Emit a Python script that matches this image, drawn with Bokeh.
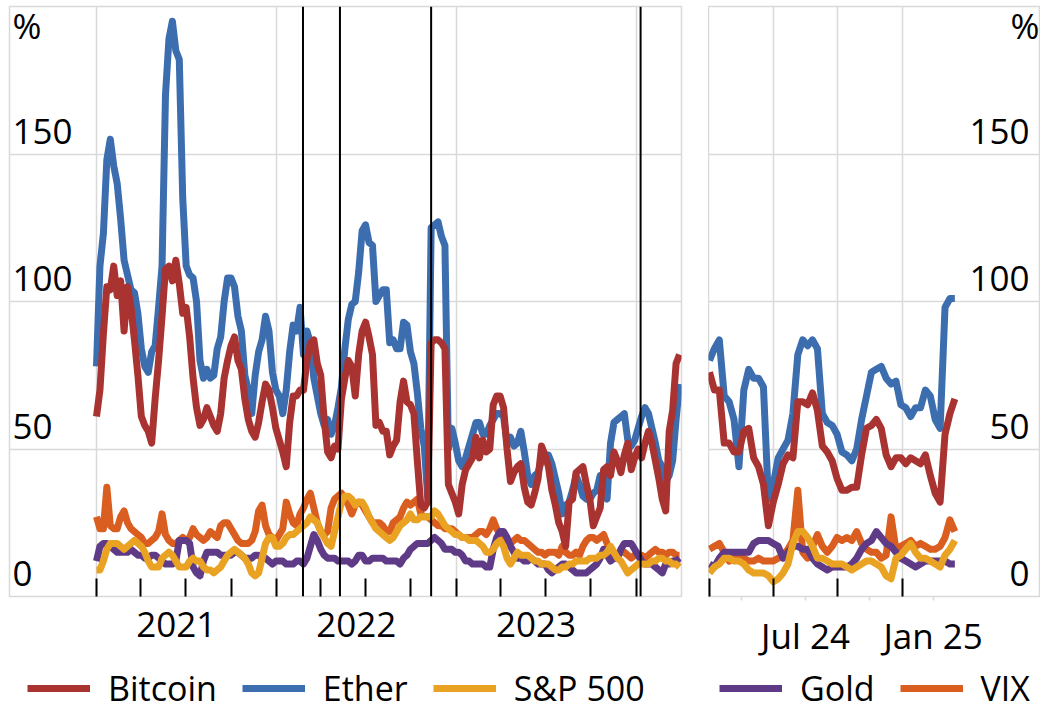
import pandas as pd
from bokeh.plotting import figure
from bokeh.models import (FixedTicker, Span, Label, Legend, LegendItem, Range1d,
                          ColumnDataSource, LinearAxis, Grid)
from bokeh.layouts import row, column
from bokeh.embed import file_html
from bokeh.resources import INLINE

# ---------------- data (weekly readings, % annualised volatility) ----------------
left_start = "2021-01-01"
right_start = "2024-04-01"
step = "7D"

btc_left = [61, 70, 89, 105, 104, 112, 102, 107, 90, 105,
            98, 87, 75, 61, 58, 56, 52, 67, 80, 95,
            111, 112, 107, 114, 106, 96, 98, 88, 74, 64,
            58, 60, 64, 61, 58, 56, 62, 74, 80, 85,
            88, 80, 77, 67, 60, 56, 54, 59, 66, 72,
            70, 64, 57, 53, 49, 44, 59, 68,
            68, 70, 70, 80, 86, 87, 79, 75, 60, 49,
            47, 51, 50, 67, 74, 80, 78, 68, 82, 90,
            93, 88, 82, 58, 59, 56, 56, 48, 51, 53,
            66, 73, 66, 65, 62, 46, 31, 30, 32, 86,
            87, 87, 86, 84, 38, 35, 32, 28, 38, 43,
            45, 47, 54, 47, 53, 49, 50, 65, 68,
            68, 64, 50, 39, 42, 44, 45, 37, 32, 31,
            35, 40, 51, 48, 44, 36, 31, 25, 22, 17,
            32, 33, 42, 43, 44, 38, 33, 24, 27, 30,
            43, 44, 41, 49, 46, 42, 48, 52, 43, 47,
            50, 47, 52, 56, 52, 46, 40,
            33, 29, 56, 63, 79, 82]

eth_left = [78, 112, 123, 148, 155, 146, 140, 128, 114, 109,
            104, 103, 96, 84, 78, 76, 83, 85, 98, 112,
            170, 189, 195, 185, 182, 135, 112, 109, 108, 100,
            80, 74, 77, 74, 75, 84, 88, 100, 108, 108,
            105, 95, 90, 75, 70, 62, 75, 83, 87, 95,
            90, 76, 70, 68, 62, 70, 83, 92,
            90, 98, 82, 90, 86, 74, 68, 62, 58, 60,
            55, 58, 64, 71, 84, 94, 99, 100, 110, 124,
            126, 120, 119, 100, 102, 104, 104, 86, 87, 84,
            84, 93, 92, 83, 79, 69, 57, 51, 34, 125,
            126, 127, 122, 119, 50, 57, 52, 46, 44, 47,
            51, 55, 59, 59, 55, 55, 58, 60, 62,
            62, 61, 52, 54, 51, 52, 56, 49, 41, 38,
            41, 42, 46, 48, 48, 45, 40, 35, 28, 31,
            32, 36, 41, 38, 34, 33, 33, 35, 36, 41,
            38, 33, 52, 59, 60, 61, 62, 53, 51, 53,
            57, 61, 64, 62, 57, 52, 46,
            44, 39, 41, 46, 60, 72]

spx_left = [9, 9, 12, 16, 18, 18, 18, 17, 16, 17,
            18, 19, 18, 17, 15, 12, 10, 10, 10, 13,
            14, 15, 14, 12, 10, 10, 10, 12, 13, 12,
            12, 10, 9, 9, 8, 9, 10, 12, 14, 15,
            16, 15, 14, 13, 11, 8, 7, 8, 13, 18,
            20, 20, 17, 17, 18, 20, 21, 21,
            22, 23, 24, 25, 27, 26, 25, 22, 20, 18,
            17, 22, 27, 32, 34, 34, 33, 31, 32, 32,
            30, 27, 25, 23, 22, 21, 20, 19, 20, 22,
            24, 25, 26, 28, 26, 26, 27, 27, 27, 27,
            29, 28, 26, 24, 23, 22, 21, 21, 20, 20,
            19, 19, 19, 18, 17, 15, 15, 16, 18,
            19, 17, 13, 11, 13, 15, 14, 14, 14, 13,
            12, 12, 11, 11, 11, 10, 9, 9, 10, 10,
            11, 11, 12, 12, 12, 12, 13, 13, 13, 14,
            14, 15, 17, 15, 13, 12, 10, 8, 9, 10,
            11, 11, 11, 11, 12, 12, 13,
            13, 12, 12, 11, 11, 10]

gold_left = [12, 17, 18, 18, 17, 16, 15, 15, 15, 15,
             16, 15, 14, 14, 13, 13, 14, 14, 13, 12,
             11, 11, 11, 12, 19, 19, 19, 18, 10, 8,
             7, 12, 15, 15, 15, 15, 14, 14, 14, 14,
             15, 15, 14, 13, 13, 13, 14, 14, 13, 13,
             12, 11, 12, 12, 12, 11, 11, 11,
             12, 12, 11, 13, 17, 21, 19, 16, 14, 13,
             13, 13, 12, 12, 12, 12, 11, 12, 14, 14,
             12, 12, 13, 13, 13, 13, 12, 12, 12, 12,
             11, 13, 14, 16, 17, 18, 18, 18, 18, 19,
             20, 19, 18, 16, 16, 16, 15, 15, 14, 12,
             12, 11, 11, 11, 11, 10, 10, 16, 20,
             22, 22, 20, 17, 15, 13, 13, 12, 12, 13,
             12, 11, 11, 11, 9, 8, 9, 10, 11, 11,
             10, 9, 8, 8, 8, 8, 9, 10, 11, 13,
             16, 14, 12, 13, 13, 16, 18, 18, 18, 16,
             14, 12, 11, 11, 11, 10, 9,
             8, 11, 11, 12, 12, 13]

vix_left = [27, 23, 23, 37, 24, 23, 23, 27, 29, 25,
            23, 22, 21, 20, 18, 18, 19, 20, 22, 28,
            21, 19, 18, 18, 19, 20, 19, 20, 23, 21,
            20, 19, 20, 22, 21, 20, 24, 25, 25, 23,
            21, 19, 18, 18, 18, 19, 22, 29, 31, 24,
            21, 20, 19, 21, 23, 32, 28, 25,
            24, 28, 30, 33, 35, 30, 25, 22, 21, 22,
            30, 33, 34, 35, 33, 31, 28, 31, 32, 31,
            29, 27, 25, 25, 25, 24, 22, 22, 25, 26,
            27, 30, 32, 31, 32, 33, 28, 27, 27, 26,
            25, 24, 24, 23, 23, 23, 22, 21, 20, 20,
            20, 20, 21, 22, 22, 21, 23, 26, 23,
            21, 19, 18, 18, 19, 20, 19, 19, 18, 17,
            16, 15, 15, 14, 15, 15, 15, 14, 17, 15,
            14, 14, 15, 14, 17, 19, 20, 20, 19, 20,
            21, 18, 15, 13, 14, 15, 15, 14, 13, 14,
            14, 14, 13, 14, 15, 16, 15,
            15, 14, 15, 15, 14, 14]

btc_right = [76, 70, 70, 52, 52, 49, 49, 56, 57, 47,
             44, 38, 24, 32, 38, 45, 48, 47, 66, 66,
             65, 69, 63, 51, 49, 46, 40, 36, 36, 37,
             37, 48, 57, 58, 60, 57, 48, 44, 47, 47,
             45, 47, 46, 45, 48, 41, 35, 32, 55, 62,
             67]
eth_right = [80, 84, 87, 68, 66, 60, 44, 70, 77, 74,
             74, 71, 33, 38, 47, 50, 53, 62, 82, 87,
             85, 87, 84, 62, 59, 58, 55, 49, 48, 46,
             50, 60, 68, 76, 77, 78, 74, 72, 73, 65,
             64, 61, 64, 64, 70, 68, 60, 57, 98, 101,
             101]
spx_right = [8, 10, 11, 13, 13, 12, 12, 11, 9, 8,
             8, 8, 7, 5, 6, 8, 11, 18, 22, 22,
             20, 17, 13, 13, 12, 11, 11, 11, 10, 9,
             10, 11, 12, 12, 11, 10, 7, 6, 13, 14,
             16, 18, 15, 13, 13, 12, 11, 10, 14, 16,
             19]
gold_right = [11, 10, 13, 15, 15, 15, 15, 15, 15, 18,
              19, 19, 19, 18, 17, 13, 15, 17, 17, 16,
              16, 13, 11, 10, 9, 10, 10, 10, 10, 11,
              13, 16, 18, 19, 22, 20, 18, 17, 15, 13,
              12, 11, 10, 11, 12, 12, 12, 12, 12, 11,
              11]
vix_right = [16, 17, 18, 15, 12, 13, 13, 13, 12, 12,
             13, 12, 12, 12, 13, 14, 16, 19, 36, 15,
             13, 17, 21, 17, 15, 17, 20, 19, 20, 19,
             22, 18, 16, 15, 15, 13, 14, 27, 16, 17,
             18, 19, 17, 18, 17, 16, 16, 17, 20, 26,
             22]

series_labels = ["Bitcoin", "Ether", "S&P 500", "Gold", "VIX"]
y_ticks = [0, 50, 100, 150]
left_year_labels = ["2021", "2022", "2023"]
left_year_label_dates = ["2021-06-12", "2022-06-12", "2023-06-12"]
left_year_starts = ["2021-01-01", "2022-01-01", "2023-01-01", "2024-01-01"]
left_event_dates = ["2022-02-24", "2022-05-10", "2022-11-11", "2024-01-10"]
right_quarter_starts = ["2024-04-01", "2024-07-01", "2024-10-01", "2025-01-01"]
right_label_dates = ["2024-05-16", "2024-08-16", "2024-11-15", "2025-02-14"]
right_labels = ["", "Jul 24", "", "Jan 25"]

# ---------------- style ----------------
FONT = "Open Sans"
FS_AX = "35px"
FS_LEG = "34px"
GRID = "#d9d9d9"
COL = {"Bitcoin": "#A93330", "Ether": "#3C6DAF", "S&P 500": "#E9A221",
       "Gold": "#5F3B87", "VIX": "#D95E20"}
LW = 7
H_TOP = 665      # height of the chart row
H_LEG = 46       # height of the legend row
TOP = 6          # frame top (px)
FRAME_H = 590    # frame height (px)


def ms(d):
    return int(pd.Timestamp(d).value // 10**6)


def make_panel(dates, data, x_start, x_end, width, mbl, mbr):
    src = ColumnDataSource(dict(date=dates, **{k: v for k, v in data.items()}))
    p = figure(width=width, height=H_TOP, x_range=Range1d(ms(x_start), ms(x_end)),
               y_range=Range1d(0, 200), x_axis_type=None, y_axis_type=None,
               toolbar_location=None, output_backend="svg",
               min_border_left=mbl, min_border_right=mbr, min_border_top=TOP,
               min_border_bottom=H_TOP - TOP - FRAME_H,
               outline_line_color=GRID, outline_line_width=1.5,
               background_fill_color="white", border_fill_color="white")
    p.add_layout(Grid(dimension=1, ticker=FixedTicker(ticks=[50, 100, 150, 200]),
                      grid_line_color=GRID, grid_line_width=1.5))
    for name in ["VIX", "Gold", "S&P 500", "Ether", "Bitcoin"]:
        p.line(x="date", y=name, source=src, line_color=COL[name],
               line_width=LW, line_join="round")
    return p


def add_xaxis(p, label_dates, labels, minor_dates, grid_dates, major_color):
    ticks = [ms(d) for d in label_dates]
    ax = LinearAxis(ticker=FixedTicker(ticks=ticks, minor_ticks=[ms(d) for d in minor_dates]),
                    major_label_overrides={t: l for t, l in zip(ticks, labels)},
                    axis_line_color=None,
                    major_tick_line_color=major_color, major_tick_line_width=1.5,
                    major_tick_in=0, major_tick_out=4,
                    minor_tick_line_color="black", minor_tick_line_width=2,
                    minor_tick_in=18, minor_tick_out=0,
                    major_label_standoff=11,
                    major_label_text_font=FONT, major_label_text_font_size=FS_AX,
                    major_label_text_color="black")
    p.add_layout(ax, "below")
    p.add_layout(Grid(dimension=0, ticker=FixedTicker(ticks=[ms(d) for d in grid_dates]),
                      grid_line_color=GRID, grid_line_width=1.5))


def add_ylabels(p, sx, sx_pct, align):
    for v in y_ticks:
        p.add_layout(Label(x=sx, x_units="screen", y=v, y_offset=23, text=str(v),
                           text_align=align, text_baseline="alphabetic",
                           text_font=FONT, text_font_size=FS_AX, text_color="black"))
    p.add_layout(Label(x=sx_pct, x_units="screen", y=200, y_offset=-19, text="%",
                       text_align=align, text_baseline="alphabetic",
                       text_font=FONT, text_font_size=FS_AX, text_color="black"))


def legend_panel(names, width, margin):
    """Legend row below a chart panel; its keys carry the series' colours."""
    p = figure(width=width, height=H_LEG, x_range=Range1d(0, 1), y_range=Range1d(0, 1),
               x_axis_type=None, y_axis_type=None, toolbar_location=None,
               output_backend="svg", min_border=0, outline_line_color=None,
               background_fill_color="white", border_fill_color="white")
    items = []
    for n in names:
        # legend key only: no visible data points in this row
        r = p.line(x=[float("nan")], y=[float("nan")], line_color=COL[n], line_width=LW)
        items.append(LegendItem(label=n, renderers=[r]))
    leg = Legend(items=items, location="left", orientation="horizontal",
                 padding=0, margin=margin, spacing=25, glyph_width=63, glyph_height=20,
                 label_standoff=18, label_text_font=FONT, label_text_font_size=FS_LEG,
                 label_text_color="black", background_fill_alpha=0, border_line_color=None)
    p.add_layout(leg)
    return p


# ---------------- left panel ----------------
ldates = pd.date_range(left_start, periods=len(btc_left), freq=step)
lstart = pd.Timestamp("2021-01-01") - pd.Timedelta(days=176.5)
lend = pd.Timestamp("2021-01-01") + pd.Timedelta(days=1187)
pl = make_panel(ldates, {"Bitcoin": btc_left, "Ether": eth_left, "S&P 500": spx_left,
                         "Gold": gold_left, "VIX": vix_left},
                lstart, lend, 708, 9, 27)
add_xaxis(pl, left_year_label_dates, left_year_labels,
          pd.date_range("2021-01-01", "2024-01-01", freq="QS"), left_year_starts, None)
for d in left_event_dates:
    pl.add_layout(Span(location=ms(d), dimension="height", line_color="black", line_width=2))
add_ylabels(pl, 3, 3, "left")

# ---------------- right panel ----------------
rdates = pd.date_range(right_start, periods=len(btc_right), freq=step)
rstart = pd.Timestamp("2024-04-01") - pd.Timedelta(days=1.4)
rend = rstart + pd.Timedelta(days=332 / 0.701)
pr = make_panel(rdates, {"Bitcoin": btc_right, "Ether": eth_right, "S&P 500": spx_right,
                         "Gold": gold_right, "VIX": vix_right},
                rstart, rend, 332, 0, 0)
add_xaxis(pr, right_label_dates, right_labels, right_quarter_starts,
          right_quarter_starts[1:], GRID)
add_ylabels(pr, 321, 331, "right")

leg_l = legend_panel(["Bitcoin", "Ether", "S&P 500"], 708, 27)
leg_r = legend_panel(["Gold", "VIX"], 332, 11)

layout = column(row(pl, pr, spacing=0), row(leg_l, leg_r, spacing=0), spacing=0)
open("out.html", "w").write(file_html(layout, INLINE))
